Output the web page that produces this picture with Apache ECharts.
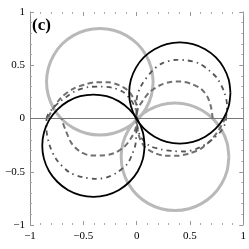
<!DOCTYPE html>
<html><head><meta charset="utf-8">
<script src="https://cdn.jsdelivr.net/npm/echarts@6/dist/echarts.min.js"></script>
<style>html,body{margin:0;padding:0;background:#fff}#c{width:249px;height:249px}</style>
</head><body><div id="c"></div>
<script>
const tickValues = [-1, -0.5, 0, 0.5, 1];
const panelLabel = '(c)';

const grayCircleUL = [[0.155,0.345],[0.138,0.474],[0.088,0.595],[0.009,0.699],[-0.095,0.778],[-0.216,0.828],[-0.345,0.845],[-0.474,0.828],[-0.595,0.778],[-0.699,0.699],[-0.778,0.595],[-0.828,0.474],[-0.845,0.345],[-0.828,0.216],[-0.778,0.095],[-0.699,-0.009],[-0.595,-0.088],[-0.474,-0.138],[-0.345,-0.155],[-0.216,-0.138],[-0.095,-0.088],[0.009,-0.009],[0.088,0.095],[0.138,0.216],[0.155,0.345]];
const grayCircleLR = [[0.865,-0.36],[0.848,-0.229],[0.797,-0.1075],[0.717,-0.003],[0.6125,0.077],[0.491,0.128],[0.36,0.145],[0.229,0.128],[0.1075,0.077],[0.003,-0.003],[-0.077,-0.1075],[-0.128,-0.229],[-0.145,-0.36],[-0.128,-0.491],[-0.077,-0.6125],[0.003,-0.717],[0.1075,-0.797],[0.229,-0.848],[0.36,-0.865],[0.491,-0.848],[0.6125,-0.797],[0.717,-0.717],[0.797,-0.6125],[0.848,-0.491],[0.865,-0.36]];
const blackCircleUR = [[0.88,0.24],[0.864,0.363],[0.816,0.478],[0.741,0.576],[0.643,0.651],[0.528,0.699],[0.405,0.715],[0.282,0.699],[0.168,0.651],[0.069,0.576],[-0.006,0.478],[-0.054,0.363],[-0.07,0.24],[-0.054,0.117],[-0.006,0.002],[0.069,-0.096],[0.168,-0.171],[0.282,-0.219],[0.405,-0.235],[0.528,-0.219],[0.643,-0.171],[0.741,-0.096],[0.816,0.002],[0.864,0.117],[0.88,0.24]];
const blackCircleLL = [[0.075,-0.255],[0.059,-0.131],[0.011,-0.015],[-0.066,0.084],[-0.165,0.161],[-0.281,0.209],[-0.405,0.225],[-0.529,0.209],[-0.645,0.161],[-0.744,0.084],[-0.821,-0.015],[-0.869,-0.131],[-0.885,-0.255],[-0.869,-0.379],[-0.821,-0.495],[-0.744,-0.594],[-0.645,-0.671],[-0.529,-0.719],[-0.405,-0.735],[-0.281,-0.719],[-0.165,-0.671],[-0.066,-0.594],[0.011,-0.495],[0.059,-0.379],[0.075,-0.255]];
const dashedRight = [[0.713,0.0],[0.698,0.106],[0.666,0.2],[0.604,0.279],[0.511,0.326],[0.402,0.347],[0.308,0.341],[0.215,0.31],[0.121,0.247],[0.059,0.169],[0.012,0.091],[0,0],[0.01,-0.11],[0.035,-0.2],[0.081,-0.27],[0.16,-0.32],[0.27,-0.35],[0.38,-0.35],[0.49,-0.33],[0.6,-0.285],[0.7,-0.2],[0.77,-0.11],[0.83,0]];
const dashedLeft = [[-0.829,0.01],[-0.78,0.1],[-0.704,0.2],[-0.595,0.279],[-0.486,0.319],[-0.377,0.341],[-0.268,0.341],[-0.159,0.31],[-0.081,0.263],[-0.035,0.2],[0,0.12],[0,0],[-0.01,-0.097],[-0.056,-0.19],[-0.119,-0.269],[-0.212,-0.326],[-0.321,-0.347],[-0.43,-0.347],[-0.539,-0.305],[-0.617,-0.222],[-0.664,-0.113],[-0.694,-0.035],[-0.7,0]];
const dashDotRight = [[0.838,0],[0.848,0.122],[0.822,0.247],[0.757,0.376],[0.682,0.45],[0.589,0.516],[0.477,0.545],[0.371,0.551],[0.243,0.52],[0.15,0.45],[0.044,0.31],[0,0.17],[0,0],[0.01,-0.09],[0.04,-0.175],[0.12,-0.255],[0.23,-0.29],[0.34,-0.305],[0.45,-0.31],[0.56,-0.285],[0.65,-0.24],[0.73,-0.18],[0.79,-0.12],[0.83,-0.05],[0.84,0]];
const dashDotLeft = [[-0.845,0],[-0.83,0.04],[-0.79,0.09],[-0.73,0.15],[-0.65,0.21],[-0.56,0.265],[-0.45,0.295],[-0.34,0.3],[-0.23,0.29],[-0.128,0.25],[-0.05,0.169],[-0.01,0.09],[0,0],[-0.01,-0.238],[-0.04,-0.332],[-0.087,-0.426],[-0.18,-0.504],[-0.274,-0.551],[-0.383,-0.566],[-0.508,-0.551],[-0.633,-0.504],[-0.757,-0.378],[-0.82,-0.238],[-0.845,-0.1],[-0.845,0]];

const fmt = v => (v < 0 ? '\u2212' : '') + String(Math.abs(v));
const labelStyle = {fontFamily: 'Liberation Serif', fontSize: 11, color: '#000'};

function axisBase(extra) {
  return Object.assign({
    type: 'value', min: tickValues[0], max: tickValues[tickValues.length - 1],
    interval: tickValues[1] - tickValues[0], splitNumber: 4,
    splitLine: {show: false},
    axisTick: {show: true, inside: true, length: 4, lineStyle: {color: '#999', width: 1}},
    minorTick: {show: true, splitNumber: 5, length: 2, lineStyle: {color: '#aaa', width: 1}},
    minorSplitLine: {show: false}
  }, extra);
}

function lineSeries(data, color, width, type, z) {
  return {type: 'line', data: data, showSymbol: false, symbol: 'none', smooth: 0.3,
    lineStyle: {color: color, width: width, type: type}, z: z, silent: true, animation: false};
}

const chart = echarts.init(document.getElementById('c'), null, {renderer: 'canvas'});
const series = [
  lineSeries(grayCircleUL, '#b9b9b9', 3, 'solid', 2),
  lineSeries(grayCircleLR, '#b9b9b9', 3, 'solid', 2),
  lineSeries(dashedRight, '#707070', 2, [5.5, 3.5], 3),
  lineSeries(dashedLeft, '#707070', 2, [5.5, 3.5], 3),
  lineSeries(dashDotRight, '#555555', 1.8, [5, 4, 1.5, 4], 4),
  lineSeries(dashDotLeft, '#555555', 1.8, [5, 4, 1.5, 4], 4),
  lineSeries(blackCircleUR, '#000000', 1.8, 'solid', 5),
  lineSeries(blackCircleLL, '#000000', 1.8, 'solid', 5)
];
series[0].markLine = {silent: true, symbol: 'none', label: {show: false}, animation: false,
  lineStyle: {color: '#777', width: 1, type: 'solid'}, data: [{yAxis: 0}]};

chart.setOption({
  animation: false,
  backgroundColor: '#fff',
  grid: {left: 30, right: 5, top: 12, bottom: 24, containLabel: false},
  xAxis: [
    axisBase({position: 'bottom', axisLine: {show: false, onZero: false},
      axisLabel: Object.assign({formatter: fmt, margin: 6, showMinLabel: true, showMaxLabel: true}, labelStyle)}),
    axisBase({position: 'top', axisLine: {show: false, onZero: false}, axisLabel: {show: false}})
  ],
  yAxis: [
    axisBase({position: 'left', axisLine: {show: true, onZero: false, lineStyle: {color: '#8c8c8c', width: 1}},
      axisLabel: Object.assign({formatter: fmt, margin: 5, showMinLabel: true, showMaxLabel: true}, labelStyle)}),
    axisBase({position: 'right', axisLine: {show: true, onZero: false, lineStyle: {color: '#8c8c8c', width: 1}},
      axisLabel: {show: false}})
  ],
  graphic: [{type: 'text', left: 32, top: 17, z: 10,
    style: {text: panelLabel, font: 'bold 17px "Liberation Serif"', fill: '#000'}}],
  series: series
});
</script></body></html>
